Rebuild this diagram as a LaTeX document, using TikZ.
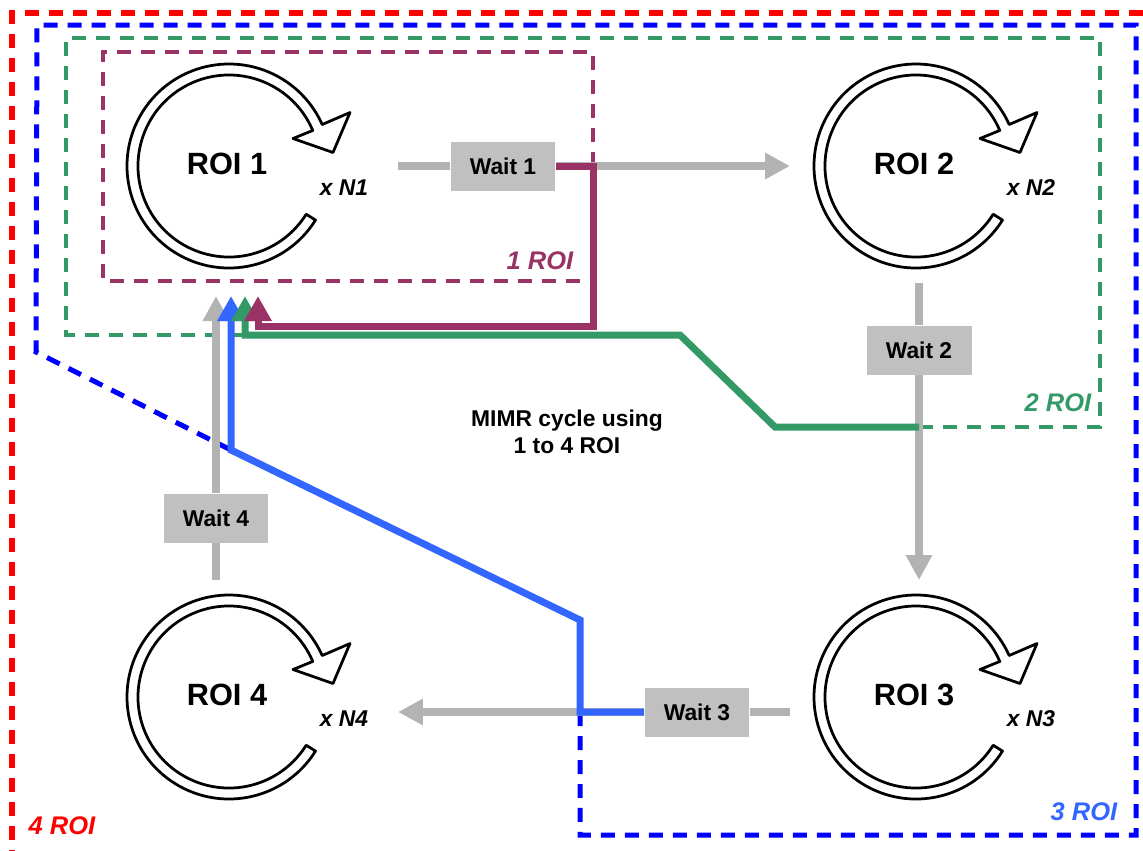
\documentclass[tikz,border=0pt]{standalone}
\usepackage{fontspec}
\setmainfont{Liberation Sans}
\usetikzlibrary{arrows.meta}
\definecolor{roipurple}{RGB}{153,51,102}
\definecolor{roigreen}{RGB}{51,153,102}
\definecolor{roiblue}{RGB}{51,102,255}
\definecolor{linegray}{RGB}{179,179,179}
\definecolor{boxgray}{RGB}{192,192,192}

\begin{document}
\begin{tikzpicture}[x=0.02cm, y=-0.02cm,
    roilabel/.style={font=\fontsize{17.5}{20}\selectfont\bfseries},
    italiclabel/.style={font=\fontsize{13}{15}\selectfont\bfseries\itshape},
    countlabel/.style={font=\fontsize{14.5}{17}\selectfont\bfseries\itshape},
    waitbox/.style={fill=boxgray, minimum width=2.1cm, minimum height=0.98cm, inner sep=0pt, font=\fontsize{13}{15}\selectfont\bfseries},
    grayline/.style={draw=linegray, line width=0.16cm},
    grayarrow/.style={grayline, -{Triangle[length=0.5cm,width=0.5cm]}},
    pathline/.style={line width=0.14cm, -{Triangle[length=0.5cm,width=0.52cm]}},
    boxline/.style={dash pattern=on 0.28cm off 0.2cm},
    roiloop/.pic={
        \begin{scope}[yscale=-1]
        \draw[line width=0.055cm, fill=white, line join=round]
            (-32:102) arc[start angle=-32, end angle=-336, radius=102]
            -- (121,53.5) -- (104,13.5) -- (64,27.5) -- (23:91)
            arc[start angle=23, end angle=328, radius=91] -- cycle;
        \end{scope}
    }]
    \useasboundingbox (0,0) rectangle (1143,850);

    % Draw ROI frames
    \draw[boxline, red, line width=0.13cm] (1143,13) -- (12,13) -- (12,850);
    \draw[boxline, blue, line width=0.1cm] (580,712) -- (580,835) -- (1136,835) -- (1136,25) -- (37,25) -- (36,352) -- (231,450);
    \draw[boxline, roigreen, line width=0.07cm] (919,427) -- (1100,427) -- (1100,38) -- (66,38) -- (66,335) -- (245,335);
    \draw[boxline, roipurple, line width=0.08cm] (593,166) -- (593,52) -- (103,52) -- (103,281) -- (593,281);

    % Draw nodes
    \pic at (229,166) {roiloop};
    \pic at (916,166) {roiloop};
    \pic at (916,697) {roiloop};
    \pic at (229,697) {roiloop};
    \node[roilabel] (r1) at (227,164) {ROI 1};
    \node[roilabel] (r2) at (914,164) {ROI 2};
    \node[roilabel] (r3) at (914,695) {ROI 3};
    \node[roilabel] (r4) at (227,695) {ROI 4};
    \node[italiclabel] (n1) at (344,188) {x N1};
    \node[italiclabel] (n2) at (1031,188) {x N2};
    \node[italiclabel] (n3) at (1031,719) {x N3};
    \node[italiclabel] (n4) at (344,719) {x N4};
    \node[waitbox] (w1) at (503,166) {Wait 1};
    \node[waitbox] (w2) at (919,350) {Wait 2};
    \node[waitbox] (w3) at (697,712) {Wait 3};
    \node[waitbox] (w4) at (216,518) {Wait 4};

    \coordinate (s1) at (398,166);
    \coordinate (e1) at (790,166);
    \coordinate (s2) at (919,283);
    \coordinate (e2) at (919,580);
    \coordinate (s3) at (790,712);
    \coordinate (e3) at (398,712);
    \coordinate (s4) at (216,580);
    \coordinate (e4) at (216,296);
    \coordinate (tb) at (231,296);
    \coordinate (tg) at (245,296);
    \coordinate (tp) at (258,296);
    \coordinate (g0) at (919,427);

    % Draw connections
    \draw[grayline] (s1) -- (w1);
    \draw[grayarrow] (w1) -- (e1);
    \draw[grayline] (s2) -- (w2);
    \draw[grayarrow] (w2) -- (e2);
    \draw[grayline] (s3) -- (w3);
    \draw[grayarrow] (w3) -- (e3);
    \draw[grayline] (s4) -- (w4);
    \draw[grayarrow] (w4) -- (e4);

    \draw[pathline, roiblue] (w3.west) -- (580,712) -- (580,620) -- (231,450) -- (tb);
    \draw[pathline, roigreen] (g0) -- (775,427) -- (680,335) -- (245,335) -- (tg);
    \draw[pathline, roipurple] (w1.east) -- (593,166) -- (593,326) -- (258,326) -- (tp);

    % Labels
    \node[align=center, font=\fontsize{13}{15.4}\selectfont\bfseries] (cap) at (567,432) {MIMR cycle using\\1 to 4 ROI};
    \node[countlabel, roipurple] (l1) at (540,261) {1 ROI};
    \node[countlabel, roigreen] (l2) at (1058,403) {2 ROI};
    \node[countlabel, roiblue] (l3) at (1084,812) {3 ROI};
    \node[countlabel, red] (l4) at (62,826) {4 ROI};
\end{tikzpicture}
\end{document}
